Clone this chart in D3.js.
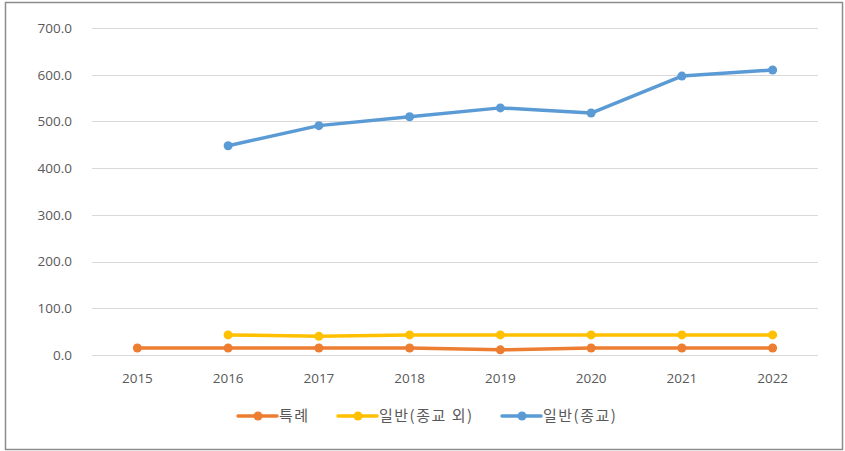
<!DOCTYPE html>
<html><head><meta charset="utf-8">
<script src="https://cdn.jsdelivr.net/npm/d3@7/dist/d3.min.js"></script>
<style>body{margin:0;background:#fff}svg{display:block}text{font-family:"Noto Sans CJK KR","Noto Sans",sans-serif}</style>
</head><body><svg id="c" width="845" height="451"></svg>
<script>
const years = ["2015","2016","2017","2018","2019","2020","2021","2022"];
const seriesNames = ["특례","일반(종교 외)","일반(종교)"];
const seriesColors = ["#ED7D31","#FFC000","#5B9BD5"];
const special = [15, 15, 15, 15, 11, 15, 15, 15];
const generalNonRel = [null, 43, 40, 43, 43, 43, 43, 43];
const generalRel = [null, 448, 491, 510, 529, 518, 597, 610];
const yTicks = [0,100,200,300,400,500,600,700];

const svg = d3.select("#c");
svg.append("rect").attr("x",5.5).attr("y",2.5).attr("width",837).attr("height",447)
  .attr("fill","#fff").attr("stroke","#8c8c8c").attr("stroke-width",1.5);

const x = d3.scaleBand().domain(years).range([92,818]);
const y = d3.scaleLinear().domain([0,700]).range([355,28]);

const g = svg.append("g");
g.selectAll("line.grid").data(yTicks).join("line")
  .attr("x1",92).attr("x2",818).attr("y1",d=>Math.round(y(d))+0.5).attr("y2",d=>Math.round(y(d))+0.5)
  .attr("stroke","#d9d9d9").attr("stroke-width",1);

const axisFont = "'Open Sans','Liberation Sans',Arial,sans-serif";
const yAxis = svg.append("g").attr("transform","translate(72,0)")
  .call(d3.axisLeft(y).tickValues(yTicks).tickFormat(d3.format(".1f")).tickSize(0).tickPadding(0));
yAxis.select(".domain").remove();
yAxis.selectAll("text").attr("fill","#595959").style("font-size","13.5px").style("font-family",axisFont);

const xAxis = svg.append("g").attr("transform","translate(0,373)")
  .call(d3.axisBottom(x).tickSize(0).tickPadding(0));
xAxis.select(".domain").remove();
xAxis.selectAll("text").attr("fill","#595959").style("font-size","13.5px").attr("dy","0.71em").style("font-family",axisFont);

const data = [special, generalNonRel, generalRel];
const cx = d => x(d)+x.bandwidth()/2;
data.forEach((vals,i)=>{
  const pts = years.map((yr,j)=>({yr, v: vals[j]})).filter(p=>p.v!=null);
  const line = d3.line().x(p=>cx(p.yr)).y(p=>y(p.v));
  svg.append("path").datum(pts).attr("d",line).attr("fill","none")
    .attr("stroke",seriesColors[i]).attr("stroke-width",3.5).attr("stroke-linejoin","round").attr("stroke-linecap","round");
  svg.selectAll(null).data(pts).join("circle").attr("cx",p=>cx(p.yr)).attr("cy",p=>y(p.v))
    .attr("r",4.5).attr("fill",seriesColors[i]);
});

const legendX = [238, 338, 502];
const lg = svg.append("g");
seriesNames.forEach((n,i)=>{
  const lx = legendX[i], ly = 416;
  lg.append("line").attr("x1",lx).attr("x2",lx+39).attr("y1",ly).attr("y2",ly)
    .attr("stroke",seriesColors[i]).attr("stroke-width",3.5).attr("stroke-linecap","round");
  lg.append("circle").attr("cx",lx+20).attr("cy",ly).attr("r",4.5).attr("fill",seriesColors[i]);
  lg.append("text").attr("x",lx+41).attr("y",ly).attr("dy","0.35em").attr("fill","#595959")
    .style("font-size","15px").style("letter-spacing","1.5px").text(n);
});
</script></body></html>
